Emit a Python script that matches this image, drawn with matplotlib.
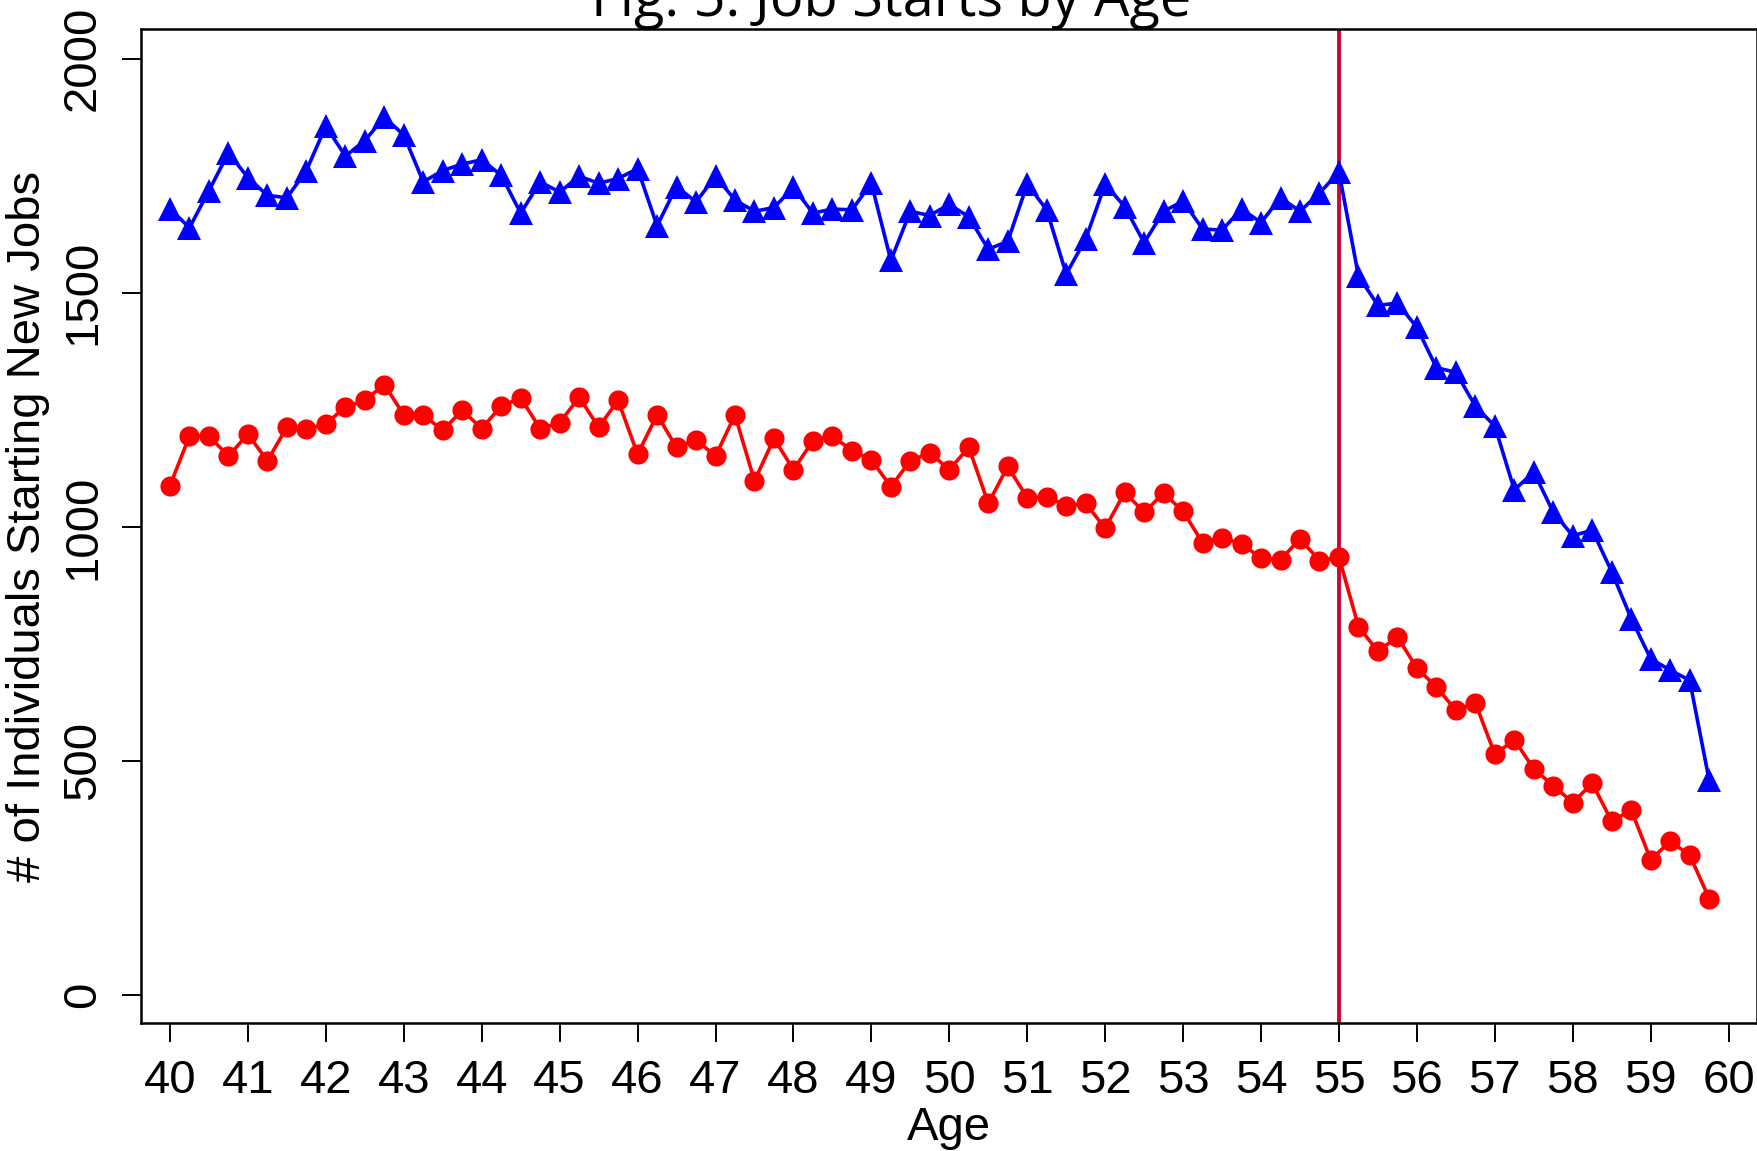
import matplotlib
matplotlib.use("Agg")
import matplotlib.pyplot as plt
import numpy as np

# Data
ages = [40 + 0.25 * i for i in range(80)]
blue_vals = [1679, 1639, 1718, 1799, 1746, 1708, 1703, 1761, 1856, 1792,
             1825, 1875, 1837, 1737, 1761, 1775, 1784, 1751, 1670, 1737,
             1715, 1749, 1734, 1744, 1765, 1643, 1727, 1694, 1749, 1698,
             1674, 1682, 1725, 1670, 1679, 1677, 1734, 1569, 1674, 1665,
             1689, 1662, 1593, 1610, 1732, 1677, 1540, 1615, 1732, 1684,
             1607, 1674, 1696, 1636, 1634, 1679, 1650, 1703, 1674, 1713,
             1758, 1536, 1473, 1478, 1426, 1340, 1330, 1258, 1215, 1079,
             1117, 1031, 981, 993, 904, 804, 718, 694, 672, 459]
red_vals = [1088, 1194, 1194, 1151, 1198, 1141, 1213, 1208, 1220, 1256,
            1270, 1304, 1239, 1239, 1206, 1249, 1210, 1258, 1275, 1210,
            1222, 1277, 1213, 1270, 1155, 1239, 1170, 1186, 1151, 1239,
            1098, 1189, 1122, 1184, 1194, 1163, 1143, 1086, 1141, 1158,
            1122, 1170, 1050, 1129, 1062, 1064, 1045, 1050, 997, 1074,
            1031, 1072, 1033, 966, 976, 964, 933, 930, 974, 928,
            935, 787, 734, 765, 698, 658, 608, 624, 514, 545,
            483, 447, 411, 452, 371, 395, 289, 328, 299, 206]
xticks = list(range(40, 61))
yticks = [0, 500, 1000, 1500, 2000]
cutoff_age = 55
title = "Fig. 5: Job Starts by Age"
xlabel = "Age"
ylabel = "# of Individuals Starting New Jobs"

W, H = 1758, 1151
fig = plt.figure(figsize=(W / 100, H / 100), dpi=100)
ax = fig.add_axes([141 / W, 1 - 1023.3 / H, (1756.7 - 141) / W, (1023.3 - 29.3) / H])

font = ["Liberation Sans", "DejaVu Sans"]
fs = 34

ax.axvline(cutoff_age, color="#C4083C", lw=2.8, zorder=1)
ax.plot(ages, blue_vals, color="#0000FF", lw=2.6, marker="^", ms=17,
        markeredgewidth=0, zorder=3)
ax.plot(ages, red_vals, color="#FF0000", lw=2.6, marker="o", ms=14.5,
        markeredgewidth=0, zorder=3)

ax.set_xlim(39.628, 60.36)
ax.set_ylim(-60.5, 2062.8)
ax.set_xticks(xticks)
ax.set_xticklabels([str(t) for t in xticks], fontfamily=font, fontsize=fs)
ax.set_yticks(yticks)
ax.set_yticklabels([str(t) for t in yticks], fontfamily=font, fontsize=fs,
                   rotation=90, va="center")
ax.tick_params(axis="both", direction="out", length=14, width=1.4, color="black")
ax.tick_params(axis="x", pad=12)
ax.tick_params(axis="y", pad=12)
for s in ax.spines.values():
    s.set_linewidth(1.8)
    s.set_color("black")

ax.set_xlabel(xlabel, fontfamily=font, fontsize=fs, labelpad=2)
ax.set_ylabel(ylabel, fontfamily=font, fontsize=fs, labelpad=8)

t = fig.text(891 / W, 1 - 16 / H, title, ha="center", va="baseline",
             fontfamily=["Open Sans", "DejaVu Sans"], fontsize=30)
r = fig.canvas.get_renderer()
w = t.get_window_extent(r).width
t.set_fontsize(30 * 600 / w)

fig.savefig("out.png", dpi=100)
